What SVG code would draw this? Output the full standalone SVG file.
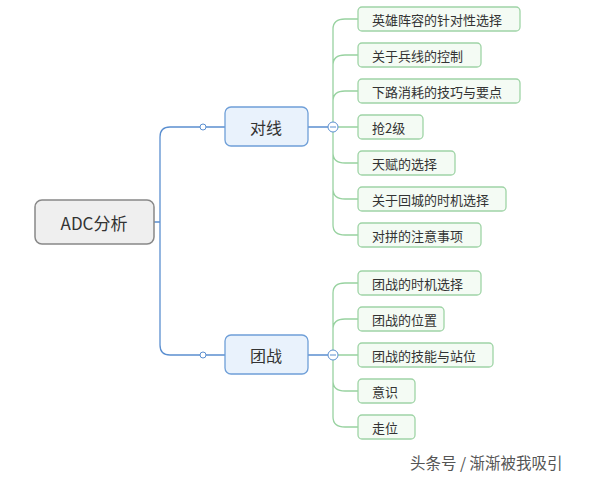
<svg xmlns="http://www.w3.org/2000/svg" width="600" height="478" viewBox="0 0 600 478">
<style>
text{font-family:"Noto Sans CJK SC","Liberation Sans",sans-serif;fill:#333;dominant-baseline:central}
.c{font-size:13px}
.m{font-size:16px;text-anchor:middle}
.leaf{fill:#f4fbf4;stroke:#9fd4a6;stroke-width:1.3}
.mid{fill:#e9f2fc;stroke:#6f9fd8;stroke-width:1.3}
.b{fill:none;stroke:#5b8fd0;stroke-width:1.3}
.g{fill:none;stroke:#98d2a0;stroke-width:1.3}
</style>
<rect width="600" height="478" fill="#fff"/>
<g id="connectors">
<path class="b" d="M154,222 H160 M160,137 V345 M160,137 Q160,127 170,127 H225 M160,345 Q160,355 170,355 H225"/>
<circle cx="203" cy="127" r="3" fill="#fff" stroke="#5b8fd0"/>
<circle cx="203" cy="355" r="3" fill="#fff" stroke="#5b8fd0"/>
<path class="b" d="M308,127 H328 M308,355 H328"/>
<path class="g" d="M338,127 H358 M333,132 V225 Q333,235 345,235 H358 M333,122 V29 Q333,19 345,19 H358 M333,65 Q333,55 345,55 H358 M333,101 Q333,91 345,91 H358 M333,153 Q333,163 345,163 H358 M333,189 Q333,199 345,199 H358"/>
<path class="g" d="M338,355 H358 M333,350 V293 Q333,283 345,283 H358 M333,329 Q333,319 345,319 H358 M333,360 V417 Q333,427 345,427 H358 M333,381 Q333,391 345,391 H358"/>
<circle cx="333" cy="127" r="5" fill="#fff" stroke="#5b8fd0"/>
<path d="M330,127 H336" stroke="#5b8fd0"/>
<circle cx="333" cy="355" r="5" fill="#fff" stroke="#5b8fd0"/>
<path d="M330,355 H336" stroke="#5b8fd0"/>
</g>
<g id="root"><rect x="35" y="200" width="119" height="44" rx="7" fill="#efefef" stroke="#888" stroke-width="1.5"/><text class="m" x="94" y="222" style="font-size:17px">ADC分析</text></g>
<g id="duixian"><rect class="mid" x="225" y="107" width="83" height="39" rx="6"/><text class="m" x="266" y="127">对线</text></g>
<g id="tuanzhan"><rect class="mid" x="225" y="335" width="83" height="39" rx="6"/><text class="m" x="266" y="355">团战</text></g>
<g id="n1"><rect class="leaf" x="358" y="7" width="162" height="24" rx="4"/><text class="c" x="372" y="19">英雄阵容的针对性选择</text></g>
<g id="n2"><rect class="leaf" x="358" y="43" width="123" height="24" rx="4"/><text class="c" x="372" y="55">关于兵线的控制</text></g>
<g id="n3"><rect class="leaf" x="358" y="79" width="162" height="24" rx="4"/><text class="c" x="372" y="91">下路消耗的技巧与要点</text></g>
<g id="n4"><rect class="leaf" x="358" y="115" width="65" height="24" rx="4"/><text class="c" x="372" y="127">抢2级</text></g>
<g id="n5"><rect class="leaf" x="358" y="151" width="97" height="24" rx="4"/><text class="c" x="372" y="163">天赋的选择</text></g>
<g id="n6"><rect class="leaf" x="358" y="187" width="148" height="24" rx="4"/><text class="c" x="372" y="199">关于回城的时机选择</text></g>
<g id="n7"><rect class="leaf" x="358" y="223" width="123" height="24" rx="4"/><text class="c" x="372" y="235">对拼的注意事项</text></g>
<g id="m1"><rect class="leaf" x="358" y="271" width="123" height="24" rx="4"/><text class="c" x="372" y="283">团战的时机选择</text></g>
<g id="m2"><rect class="leaf" x="358" y="307" width="86" height="24" rx="4"/><text class="c" x="372" y="319">团战的位置</text></g>
<g id="m3"><rect class="leaf" x="358" y="343" width="135" height="24" rx="4"/><text class="c" x="372" y="355">团战的技能与站位</text></g>
<g id="m4"><rect class="leaf" x="358" y="379" width="57" height="24" rx="4"/><text class="c" x="372" y="391">意识</text></g>
<g id="m5"><rect class="leaf" x="358" y="415" width="57" height="24" rx="4"/><text class="c" x="372" y="427">走位</text></g>
<text x="410" y="462" style="font-size:15.5px;fill:#555">头条号 / 渐渐被我吸引</text>
</svg>
